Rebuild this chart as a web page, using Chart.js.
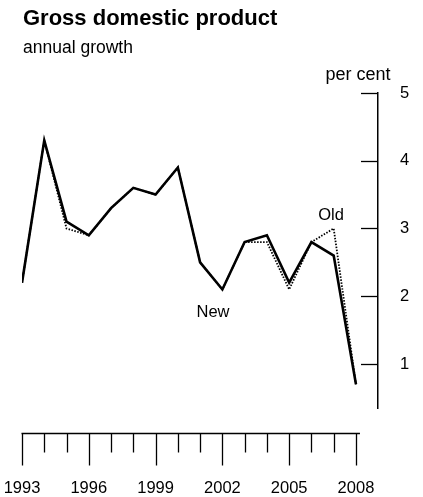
<!DOCTYPE html>
<html><head><meta charset="utf-8">
<script src="https://cdn.jsdelivr.net/npm/chart.js@4.4.1/dist/chart.umd.min.js"></script>
<style>html,body{margin:0;padding:0;background:#fff;}canvas{display:block}</style>
</head><body>
<canvas id="c" width="423" height="497"></canvas>
<script>
const years = [1993,1994,1995,1996,1997,1998,1999,2000,2001,2002,2003,2004,2005,2006,2007,2008];
const newGrowth = [2.2,4.3,3.1,2.9,3.3,3.6,3.5,3.9,2.5,2.1,2.8,2.9,2.2,2.8,2.6,0.7];
const oldGrowth = [2.2,4.3,3.0,2.9,3.3,3.6,3.5,3.9,2.5,2.1,2.8,2.8,2.1,2.8,3.0,0.7];
const yTicks = [1,2,3,4,5];
const xLabelYears = [1993,1996,1999,2002,2005,2008];
const titleText = 'Gross domestic product';
const subtitleText = 'annual growth';
const unitText = 'per cent';
const seriesNames = ['New','Old'];
const seriesLabelAt = [[2001.58,1.70],[2006.88,3.13]];

const FONT = '"Liberation Sans", Arial, sans-serif';

const axisPlugin = {
  id: 'axisDecor',
  afterDraw(chart) {
    const {ctx, chartArea: a, scales: {x, y}} = chart;
    ctx.save();
    ctx.strokeStyle = '#000';
    ctx.lineWidth = 1.3;
    yTicks.forEach(v => {
      const py = Math.round(y.getPixelForValue(v)) + 0.5;
      ctx.beginPath(); ctx.moveTo(a.right, py); ctx.lineTo(a.right - 17, py); ctx.stroke();
    });
    const ay = Math.round(a.bottom + 25) + 0.5;
    const x0 = x.getPixelForValue(years[0]);
    const x1 = x.getPixelForValue(years[years.length - 1]);
    ctx.beginPath(); ctx.moveTo(x0 - 0.5, ay); ctx.lineTo(x1 + 4, ay); ctx.stroke();
    years.forEach(yr => {
      const px = Math.round(x.getPixelForValue(yr)) + 0.5;
      const len = xLabelYears.includes(yr) ? 32 : 19;
      ctx.beginPath(); ctx.moveTo(px, ay); ctx.lineTo(px, ay + len); ctx.stroke();
    });
    ctx.fillStyle = '#000';
    ctx.textBaseline = 'alphabetic';
    ctx.textAlign = 'left';
    ctx.font = 'bold 22px ' + FONT;
    ctx.fillText(titleText, 23, 25);
    ctx.font = '17.5px ' + FONT;
    ctx.fillText(subtitleText, 23, 53);
    ctx.textAlign = 'center';
    ctx.font = '18px ' + FONT;
    ctx.fillText(unitText, 358, 80);
    ctx.font = '16.5px ' + FONT;
    seriesNames.forEach((n, i) => {
      ctx.fillText(n, x.getPixelForValue(seriesLabelAt[i][0]), y.getPixelForValue(seriesLabelAt[i][1]));
    });
    ctx.restore();
  }
};

new Chart(document.getElementById('c'), {
  type: 'line',
  data: {
    datasets: [
      { label: seriesNames[0], data: years.map((yr, i) => ({x: yr, y: newGrowth[i]})),
        borderColor: '#000', borderWidth: 2.6, pointRadius: 0, tension: 0, fill: false, order: 0 },
      { label: seriesNames[1], data: years.map((yr, i) => ({x: yr, y: oldGrowth[i]})),
        borderColor: '#000', borderWidth: 1.8, borderDash: [1.5, 1.5], pointRadius: 0, tension: 0, fill: false, order: 1 }
    ]
  },
  options: {
    responsive: false,
    animation: false,
    devicePixelRatio: 1,
    layout: { padding: { left: 22, top: 93, right: 0, bottom: 0 } },
    plugins: { legend: { display: false }, title: { display: false }, tooltip: { enabled: false } },
    scales: {
      x: {
        type: 'linear', min: 1993, max: 2008.99,
        grid: { display: true, drawOnChartArea: false, drawTicks: true, tickLength: 69, color: 'rgba(0,0,0,0)' },
        border: { display: false },
        afterBuildTicks: s => { s.ticks = xLabelYears.map(v => ({value: v})); },
        afterFit: s => { s.height = 89; },
        ticks: { autoSkip: false, maxRotation: 0, padding: 2, color: '#000',
          font: { family: FONT, size: 16.5 }, callback: v => String(v) }
      },
      y: {
        position: 'right', min: 0.35, max: 5,
        grid: { display: false, drawTicks: false },
        border: { display: true, color: '#000', width: 1.5 },
        afterBuildTicks: s => { s.ticks = yTicks.map(v => ({value: v})); },
        afterFit: s => { s.width = 45; },
        ticks: { padding: 22, color: '#000', font: { family: FONT, size: 16.5 }, callback: v => String(v) }
      }
    }
  },
  plugins: [axisPlugin]
});
</script>
</body></html>
